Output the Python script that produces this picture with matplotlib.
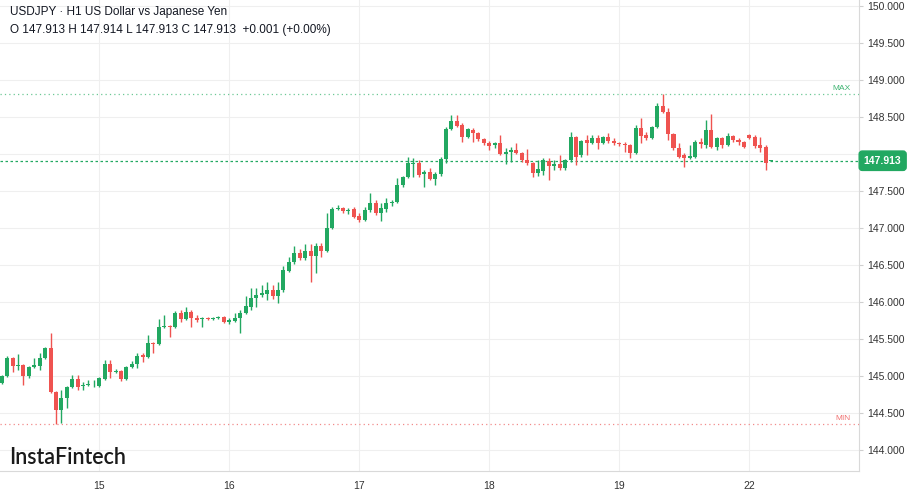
import numpy as np
import matplotlib
matplotlib.use('Agg')
import matplotlib.pyplot as plot
import matplotlib.transforms as transforms

# ----------------------------------------------------------------
# Data: USDJPY H1 candles

opens=[144.91,145.00,145.25,145.14,145.15,145.00,145.13,145.14,145.25,145.38,
       144.79,144.54,144.71,144.86,144.96,144.87,144.88,144.89,144.87,144.96,
       145.17,145.06,145.07,144.96,145.13,145.17,145.29,145.26,145.45,145.44,
       145.67,145.68,145.67,145.86,145.77,145.87,145.79,145.77,145.79,145.77,
       145.79,145.80,145.73,145.75,145.79,145.86,145.94,146.06,146.10,146.11,
       146.17,146.09,146.17,146.42,146.54,146.67,146.60,146.69,146.63,146.76,
       146.69,147.00,147.26,147.27,147.24,147.26,147.17,147.11,147.25,147.34,
       147.21,147.26,147.34,147.36,147.59,147.69,147.87,147.88,147.73,147.76,
       147.67,147.73,147.94,148.34,148.45,148.40,148.23,148.33,148.29,148.21,
       148.15,148.13,148.15,148.00,148.03,148.06,148.02,147.92,147.88,147.75,
       147.77,147.91,147.84,147.87,147.81,147.92,148.23,147.99,148.19,148.15,
       148.22,148.15,148.23,148.18,148.15,148.14,148.13,148.02,148.36,148.26,
       148.22,148.37,148.65,148.57,148.27,148.09,147.99,147.95,147.96,148.17,
       148.13,148.33,148.10,148.22,148.13,148.25,148.19,148.17,148.26,148.23,
       148.13,148.10,147.913]
highs=[145.02,145.27,145.26,145.30,145.17,145.14,145.25,145.31,145.40,145.59,
       144.80,144.82,144.87,145.02,145.02,144.92,144.95,144.95,144.99,145.22,
       145.22,145.10,145.09,145.14,145.21,145.31,145.31,145.56,145.46,145.77,
       145.83,145.69,145.88,145.90,145.94,145.90,145.83,145.80,145.80,145.80,
       145.82,145.81,145.79,145.86,145.90,146.09,146.19,146.19,146.23,146.27,
       146.23,146.27,146.49,146.61,146.76,146.72,146.79,146.79,146.80,146.80,
       147.21,147.29,147.31,147.29,147.27,147.29,147.21,147.29,147.48,147.38,
       147.34,147.41,147.38,147.68,147.71,147.96,147.95,147.92,147.79,147.81,
       147.76,147.96,148.37,148.53,148.53,148.42,148.36,148.36,148.30,148.22,
       148.18,148.17,148.26,148.09,148.10,148.15,148.03,148.07,147.90,147.92,
       147.95,147.95,147.92,147.99,147.94,148.30,148.25,148.19,148.26,148.26,
       148.26,148.25,148.29,148.22,148.17,148.17,148.14,148.40,148.49,148.30,
       148.38,148.69,148.81,148.63,148.29,148.15,148.02,148.13,148.19,148.22,
       148.46,148.54,148.23,148.23,148.29,148.26,148.22,148.18,148.27,148.26,
       148.23,148.13,147.914]
lows=[144.90,144.99,145.06,145.09,144.88,144.98,145.11,145.09,145.23,144.77,
      144.355,144.37,144.57,144.84,144.82,144.82,144.87,144.86,144.86,144.95,
      144.98,145.04,144.94,144.95,145.11,145.11,145.19,145.25,145.31,145.42,
      145.65,145.53,145.65,145.73,145.76,145.67,145.73,145.67,145.76,145.765,
      145.77,145.72,145.71,145.73,145.59,145.84,145.90,145.94,146.07,146.03,
      146.04,145.99,146.14,146.41,146.52,146.57,146.57,146.27,146.40,146.61,
      146.68,146.99,147.25,147.21,147.19,147.14,147.09,147.10,147.22,147.18,
      147.10,147.22,147.30,147.34,147.56,147.68,147.69,147.69,147.56,147.65,
      147.59,147.71,147.88,148.33,148.37,148.17,148.22,148.17,148.18,148.13,
      148.06,148.09,147.99,147.87,147.90,148.00,147.90,147.86,147.69,147.71,
      147.72,147.65,147.79,147.79,147.79,147.90,147.86,147.96,147.99,148.14,
      148.07,148.14,148.15,148.13,148.11,148.03,147.95,148.00,148.15,148.19,
      148.21,148.36,148.56,148.19,148.06,147.95,147.83,147.94,147.95,148.09,
      148.09,148.09,148.06,148.09,148.11,148.17,148.13,148.09,148.21,148.09,
      148.03,147.79,147.913]
closes=[145.00,145.25,145.14,145.15,145.00,145.13,145.15,145.25,145.38,144.79,
        144.54,144.71,144.86,144.96,144.86,144.88,144.90,144.90,144.98,145.17,
        145.06,145.07,144.96,145.13,145.17,145.27,145.26,145.45,145.44,145.67,
        145.68,145.66,145.86,145.77,145.87,145.79,145.76,145.79,145.77,145.79,
        145.80,145.73,145.76,145.79,145.86,145.95,146.06,146.10,146.13,146.17,
        146.09,146.17,146.44,146.54,146.67,146.60,146.69,146.63,146.76,146.69,
        147.00,147.26,147.27,147.23,147.25,147.15,147.11,147.25,147.34,147.21,
        147.27,147.34,147.36,147.59,147.69,147.88,147.88,147.72,147.76,147.67,
        147.73,147.94,148.34,148.45,148.38,148.23,148.34,148.29,148.21,148.15,
        148.11,148.15,148.00,148.03,148.06,148.02,147.92,147.88,147.75,147.80,
        147.92,147.84,147.87,147.81,147.92,148.23,147.96,148.18,148.15,148.22,
        148.15,148.23,148.18,148.15,148.14,148.13,148.02,148.36,148.25,148.22,
        148.37,148.65,148.57,148.27,148.09,147.96,147.95,147.98,148.17,148.14,
        148.33,148.10,148.22,148.13,148.25,148.19,148.17,148.10,148.22,148.11,
        148.09,147.88,147.913]

# candle index of the first bar of each day
day_index=[18,42,66,90,114,138]
day_labels=['15','16','17','18','19','22']
price_ticks=[144.0,144.5,145.0,145.5,146.0,146.5,147.0,147.5,148.0,148.5,149.0,149.5,150.0]

title='USDJPY \u00b7 H1 US Dollar vs Japanese Yen'
ohlc_line='O 147.913 H 147.914 L 147.913 C 147.913  +0.001 (+0.00%)'
last_price=147.913

# ----------------------------------------------------------------
# Options

green='#22a861'
red='#ef5350'
grid_col='#efefef'
text_col='#131722'

plot.rcParams['font.family']=['Liberation Sans','DejaVu Sans']

# ----------------------------------------------------------------
# Plot

fig=plot.figure(figsize=(9.12,4.94),dpi=100)
fig.set_facecolor('white')
ax=fig.add_axes([0.0,23.0/494,859.3/912,471.0/494])

x=np.arange(len(opens))
o=np.array(opens)
c=np.array(closes)
up=c>=o
cols=[green if u else red for u in up]

ax.vlines(x,lows,highs,colors=cols,lw=1.0,zorder=3)
bottoms=np.minimum(o,c)
heights=np.maximum(np.abs(c-o),0.012)
ax.bar(x,heights,bottom=bottoms,width=0.74,color=cols,lw=0,zorder=4)

ax.set_xlim(-0.33,158.3)
ax.set_ylim(143.72,150.085)

# the last price badge covers the label nearest to it
labels=[]
for p in price_ticks:
    if abs(p-last_price)<0.15:
        labels.append('')
    else:
        labels.append('%.3f' % p)
ax.set_yticks(price_ticks)
ax.set_yticklabels(labels)
ax.yaxis.tick_right()
ax.set_xticks(day_index)
ax.set_xticklabels(day_labels)
ax.tick_params('y',length=3,width=0.8,color='#cfcfcf',pad=2.5,labelsize=7.5,
               labelcolor='#333333')
ax.tick_params('x',length=0,pad=7,labelsize=7.5,labelcolor='#333333')
ax.grid(True,color=grid_col,lw=0.8,zorder=0)
for s in ['top','left']:
    ax.spines[s].set_visible(False)
for s in ['right','bottom']:
    ax.spines[s].set_color('#d9d9d9')
    ax.spines[s].set_linewidth(0.8)

# max / min / last price lines
hi=max(highs)
lo=min(lows)
tr=transforms.blended_transform_factory(ax.transAxes,ax.transData)
ax.axhline(hi,color='#6cc895',lw=0.9,ls=(0,(1,2.5)),zorder=2)
ax.axhline(lo,color='#f28b8b',lw=0.9,ls=(0,(1,2.5)),zorder=2)
ax.axhline(last_price,color=green,lw=0.9,ls=(0,(2,2)),zorder=2)
ax.text(0.990,hi+0.025,'MAX',transform=tr,ha='right',va='bottom',fontsize=6,
        color='#3fb472')
ax.text(0.990,lo+0.025,'MIN',transform=tr,ha='right',va='bottom',fontsize=6,
        color='#f07070')
ax.text(1.0272,last_price,'%.3f' % last_price,transform=tr,
        ha='center',va='center',fontsize=7.5,fontweight='bold',color='white',
        bbox=dict(boxstyle='round,pad=0.45,rounding_size=0.3',fc=green,ec=green),
        clip_on=False,zorder=6)

# header and logo
fig.text(10/912,1-12/494,title,ha='left',va='center',fontsize=8.5,color=text_col)
fig.text(10/912,1-30.5/494,ohlc_line,ha='left',va='center',fontsize=8.5,color=text_col)
fig.text(9/912,1-457/494,'InstaFintech',ha='left',va='center',fontsize=15.5,
         fontweight='semibold',family='Lato',color='#1a1a1a')

plot.savefig('out.png',dpi=100)
